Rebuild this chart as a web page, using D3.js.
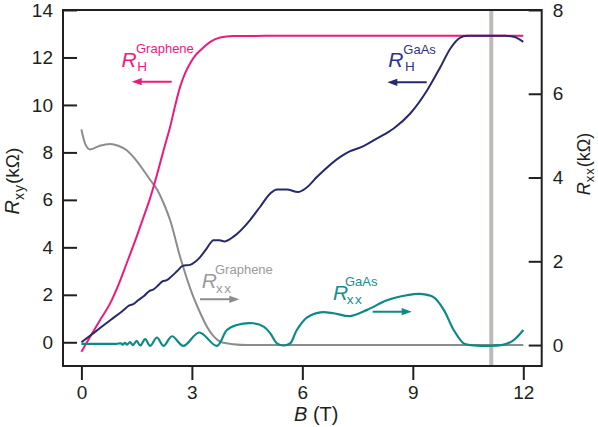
<!DOCTYPE html>
<html>
<head>
<meta charset="utf-8">
<script src="https://cdn.jsdelivr.net/npm/d3@7"></script>
<style>
  body { margin: 0; background: #fff; }
  svg text { font-family: "Liberation Sans", Arial, sans-serif; }
</style>
</head>
<body>
<svg id="chart" width="598" height="427"></svg>
<script>
// ---- data (B in T, resistance in kOhm) ----
const xTicks = [0, 3, 6, 9, 12];
const leftTicks = [0, 2, 4, 6, 8, 10, 12, 14];
const rightTicks = [0, 2, 4, 6, 8];
const markerB = 11.13;

// Hall resistance, left axis
const grapheneRH = [
  [0, -0.4], [0.24, 0.24], [0.5, 0.92], [0.78, 1.64], [1.0, 2.4], [1.23, 3.33],
  [1.5, 4.45], [1.69, 5.29], [1.85, 6.0], [2.05, 7.05], [2.25, 8.2], [2.41, 9.08],
  [2.55, 10.0], [2.68, 10.76], [2.82, 11.35], [2.95, 11.75], [3.1, 12.1], [3.23, 12.3],
  [3.5, 12.66], [3.77, 12.84], [4.12, 12.9], [5, 12.91], [12, 12.91]
];
const gaasRH = [
  [0, 0], [0.4, 0.47], [0.8, 0.95], [1.1, 1.3], [1.3, 1.55], [1.42, 1.62], [1.55, 1.78],
  [1.7, 1.95], [1.85, 2.17], [1.95, 2.22], [2.1, 2.42], [2.2, 2.57], [2.32, 2.62],
  [2.45, 2.78], [2.6, 3.0], [2.75, 3.22], [2.95, 3.26], [3.1, 3.4], [3.23, 3.6],
  [3.4, 3.95], [3.59, 4.3], [3.75, 4.3], [3.88, 4.25], [4.13, 4.45], [4.58, 5.15],
  [4.85, 5.7], [5.13, 6.27], [5.31, 6.44], [5.58, 6.44], [5.88, 6.33], [6.1, 6.5],
  [6.4, 6.97], [7.03, 7.81], [7.3, 8.05], [7.6, 8.22], [8.03, 8.59], [8.48, 9.01],
  [8.93, 9.64], [9.39, 10.62], [9.75, 11.6], [10.02, 12.38], [10.29, 12.84],
  [10.47, 12.91], [11.5, 12.91], [11.74, 12.87], [12.0, 12.66]
];

// longitudinal resistance, right axis
const grapheneRxx = [
  [0, 5.15], [0.1, 4.81], [0.24, 4.67], [0.5, 4.76], [0.78, 4.8], [1.0, 4.76],
  [1.23, 4.65], [1.45, 4.45], [1.68, 4.18], [1.87, 3.94], [2.05, 3.72], [2.25, 3.35],
  [2.41, 2.98], [2.68, 2.11], [3.04, 1.15], [3.23, 0.76], [3.41, 0.44], [3.6, 0.2],
  [3.77, 0.08], [4.13, 0.02], [4.5, 0], [12, 0]
];
const gaasRxx = [
  [0, 0.03], [0.5, 0.03], [0.95, 0.03], [1.07, 0.04], [1.12, 0.01], [1.18, 0.05],
  [1.24, 0.01], [1.32, 0.07], [1.4, 0.0], [1.5, 0.1], [1.6, -0.01], [1.73, 0.14],
  [1.87, -0.02], [2.05, 0.18], [2.23, -0.02], [2.46, 0.21], [2.77, -0.02], [3.2, 0.3],
  [3.68, -0.02], [3.95, 0.36], [4.22, 0.48], [4.67, 0.52], [4.95, 0.44], [5.13, 0.28],
  [5.31, 0.04], [5.49, -0.01], [5.67, 0.04], [5.85, 0.36], [6.13, 0.66], [6.49, 0.78],
  [6.85, 0.76], [7.3, 0.69], [7.76, 0.84], [8.3, 1.07], [8.84, 1.19], [9.2, 1.22],
  [9.57, 1.14], [9.84, 0.84], [10.11, 0.36], [10.38, 0.04], [10.56, 0], [11.47, 0.01],
  [11.74, 0.12], [12.0, 0.36]
];

// ---- layout ----
const svg = d3.select("#chart");
const plotL = 63, plotR = 541.7, plotT = 10, plotB = 366;
const ink = "#231f20";
const colors = { magenta: "#ec1b7a", navy: "#27296d", gray: "#8c8c8c", teal: "#0b8a87" };

const x = d3.scaleLinear().domain([-0.5, 12.5]).range([plotL, plotR]);
const yL = d3.scaleLinear().domain([-1, 14]).range([plotB, plotT]);
const yR = d3.scaleLinear().domain([-0.5, 8]).range([plotB, plotT]);

// marker line
svg.append("line")
  .attr("x1", x(markerB)).attr("x2", x(markerB))
  .attr("y1", plotT).attr("y2", plotB)
  .attr("stroke", "#bdbab7").attr("stroke-width", 4);

// curves
const lineL = d3.line().x(d => x(d[0])).y(d => yL(d[1])).curve(d3.curveMonotoneX);
const lineR = d3.line().x(d => x(d[0])).y(d => yR(d[1])).curve(d3.curveMonotoneX);
const lineRsmooth = d3.line().x(d => x(d[0])).y(d => yR(d[1])).curve(d3.curveCatmullRom.alpha(0.5));

const series = [
  { data: grapheneRxx, gen: lineR, color: colors.gray, w: 2 },
  { data: grapheneRH, gen: lineL, color: colors.magenta, w: 2 },
  { data: gaasRH, gen: lineL, color: colors.navy, w: 2 },
  { data: gaasRxx, gen: lineRsmooth, color: colors.teal, w: 2.2 }
];
series.forEach(s => {
  svg.append("path")
    .attr("d", s.gen(s.data))
    .attr("fill", "none")
    .attr("stroke", s.color)
    .attr("stroke-width", s.w)
    .attr("stroke-linejoin", "round");
});

// axes
function styleAxis(g) {
  g.select(".domain").remove();
  g.selectAll(".tick line").attr("stroke", ink).attr("stroke-width", 2);
  g.selectAll(".tick text").attr("fill", ink).style("font-size", "19px")
    .style("font-family", "\"Liberation Sans\", Arial, sans-serif");
}

svg.append("g")
  .attr("transform", `translate(${plotL},0)`)
  .call(d3.axisLeft(yL).tickValues(leftTicks).tickSize(-14).tickPadding(10).tickFormat(d3.format("d")))
  .call(styleAxis);

svg.append("g")
  .attr("transform", `translate(${plotR},0)`)
  .call(d3.axisRight(yR).tickValues(rightTicks).tickSize(-13).tickPadding(11).tickFormat(d3.format("d")))
  .call(styleAxis);

svg.append("g")
  .attr("transform", `translate(0,${plotB})`)
  .call(d3.axisBottom(x).tickValues(xTicks).tickSize(14).tickPadding(6).tickFormat(d3.format("d")))
  .call(styleAxis);

// frame
svg.append("rect")
  .attr("x", plotL).attr("y", plotT)
  .attr("width", plotR - plotL).attr("height", plotB - plotT)
  .attr("fill", "none").attr("stroke", ink).attr("stroke-width", 2);

// axis titles
const yTitleL = svg.append("text")
  .attr("transform", "translate(19,181) rotate(-90)")
  .attr("text-anchor", "middle").attr("fill", ink);
yTitleL.append("tspan").style("font-size", "20px").style("font-style", "italic").text("R");
yTitleL.append("tspan").style("font-size", "14px").attr("dy", 5).attr("letter-spacing", 1).text("xy");
yTitleL.append("tspan").style("font-size", "19px").attr("dy", -5).text("(kΩ)");

const yTitleR = svg.append("text")
  .attr("transform", "translate(590,164) rotate(-90)")
  .attr("text-anchor", "middle").attr("fill", ink);
yTitleR.append("tspan").style("font-size", "18px").style("font-style", "italic").text("R");
yTitleR.append("tspan").style("font-size", "13px").attr("dy", 3.5).attr("letter-spacing", 1).text("xx");
yTitleR.append("tspan").style("font-size", "18px").attr("dy", -3.5).text("(kΩ)");

const xTitle = svg.append("text").attr("x", 294).attr("y", 421).attr("fill", ink);
xTitle.append("tspan").style("font-size", "20px").style("font-style", "italic").text("B");
xTitle.append("tspan").style("font-size", "20px").text(" (T)");

// annotations
const notes = [
  { color: colors.magenta, rx: 121.5, ry: 66.7, sub: "H", sup: "Graphene", subY: 71, supY: 53.3, subX: 137.3, supX: 136,
    arrow: [171.7, 131.7, 81.7] },
  { color: "#2f3285", arrowColor: colors.navy, rx: 388.3, ry: 66.7, sub: "H", sup: "GaAs", subY: 71, supY: 54, subX: 405, supX: 403.3,
    arrow: [426.7, 387.3, 82.3] },
  { color: "#9b9b9b", arrowColor: colors.gray, rx: 201.7, ry: 288.3, sub: "xx", sup: "Graphene", subY: 292.7, supY: 274, subX: 216, supX: 215,
    arrow: [200, 239.3, 299.3] },
  { color: "#12918d", arrowColor: colors.teal, rx: 333, ry: 299.5, sub: "xx", sup: "GaAs", subY: 304, supY: 286, subX: 346.7, supX: 345,
    arrow: [372.7, 411.7, 311.7] }
];

notes.forEach(n => {
  svg.append("text").attr("x", n.rx).attr("y", n.ry).attr("fill", n.color)
    .style("font-size", "21px").style("font-style", "italic").text("R");
  svg.append("text").attr("x", n.subX).attr("y", n.subY).attr("fill", n.color)
    .style("font-size", "13.5px").attr("letter-spacing", n.sub.length > 1 ? 1.5 : 0).text(n.sub);
  svg.append("text").attr("x", n.supX).attr("y", n.supY).attr("fill", n.color)
    .style("font-size", "13px").text(n.sup);

  const [x1, x2, ay] = n.arrow;
  const dir = Math.sign(x2 - x1);
  const headLen = 10, headHalf = 3.6;
  const ac = n.arrowColor || n.color;
  svg.append("line")
    .attr("x1", x1).attr("x2", x2 - dir * headLen * 0.6)
    .attr("y1", ay).attr("y2", ay)
    .attr("stroke", ac).attr("stroke-width", 2);
  svg.append("path")
    .attr("d", `M${x2},${ay} L${x2 - dir * headLen},${ay - headHalf} L${x2 - dir * headLen},${ay + headHalf} Z`)
    .attr("fill", ac);
});
</script>
</body>
</html>
